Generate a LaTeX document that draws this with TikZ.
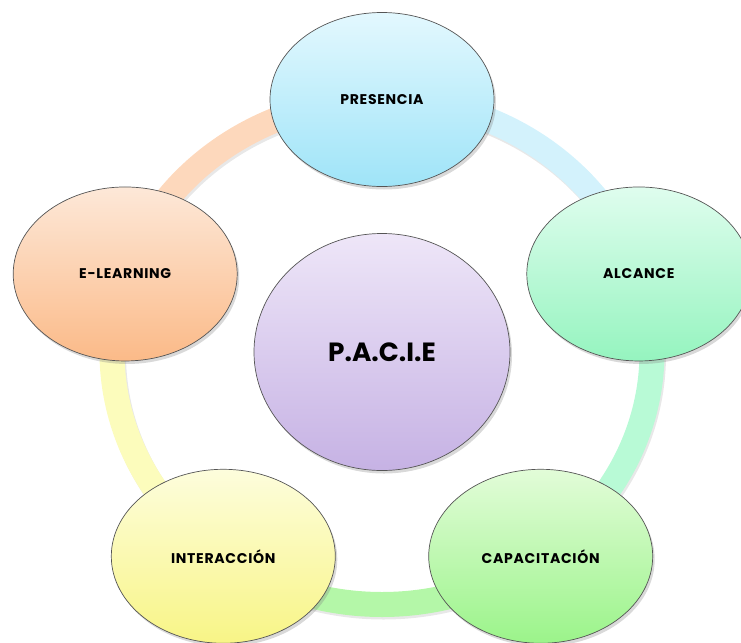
\documentclass[tikz,border=0pt]{standalone}
\usepackage{fontspec}
\newfontfamily\cycfont{Poppins}[LetterSpace=5]
\newfontfamily\hubfont{Poppins}
\usetikzlibrary{shapes.geometric,shadows,backgrounds}
\definecolor{edge}{RGB}{85,85,85}
\definecolor{skytop}{RGB}{227,248,254}
\definecolor{skybot}{RGB}{159,228,248}
\definecolor{skyband}{RGB}{211,242,252}
\definecolor{minttop}{RGB}{223,253,238}
\definecolor{mintbot}{RGB}{149,244,191}
\definecolor{mintband}{RGB}{184,250,214}
\definecolor{grasstop}{RGB}{226,252,216}
\definecolor{grassbot}{RGB}{155,244,138}
\definecolor{grassband}{RGB}{180,247,168}
\definecolor{lemontop}{RGB}{253,253,220}
\definecolor{lemonbot}{RGB}{248,245,134}
\definecolor{lemonband}{RGB}{252,252,188}
\definecolor{peachtop}{RGB}{253,232,216}
\definecolor{peachbot}{RGB}{251,186,136}
\definecolor{peachband}{RGB}{253,216,188}
\definecolor{lilactop}{RGB}{238,230,248}
\definecolor{lilacbot}{RGB}{198,178,228}
\tikzset{
  cyc/.style={ellipse,draw=edge,thin,top color=#1top,bottom color=#1bot,
    minimum width=44.8mm,minimum height=34.8mm,inner sep=0pt,
    font=\cycfont\fontsize{8}{9}\selectfont\bfseries,
    drop shadow={opacity=0.3,shadow xshift=0.4mm,shadow yshift=-0.6mm}},
  hub/.style={cyc=#1,minimum width=51.2mm,minimum height=47.4mm,
    font=\hubfont\fontsize{15}{17}\selectfont\bfseries},
  band/.style={line width=5mm,draw=#1band,
    preaction={draw=black!30,opacity=0.3,line width=5mm,
      transform canvas={shift={(0.3mm,-0.5mm)}}}},
}
\begin{document}
\begin{tikzpicture}
  \useasboundingbox (-7.64,-5.8) rectangle (7.18,7.04);
  % outer cycle
  \foreach \ang/\name/\col/\txt in {90/pres/sky/PRESENCIA,18/alc/mint/ALCANCE,
      -54/cap/grass/CAPACITACIÓN,-126/inter/lemon/INTERACCIÓN,162/elearn/peach/E-LEARNING}
    \node[cyc=\col] (\name) at (\ang:5.4 and 5.05) {\txt};
  \node[hub=lilac] (pacie) at (0,0) {P.A.C.I.E};
  % ring segments behind the ellipses
  \begin{scope}[on background layer]
    \foreach \from/\s/\e/\col in {pres/90/18/sky,alc/18/-54/mint,cap/-54/-126/grass,
        inter/-126/-198/lemon,elearn/162/90/peach}
      \draw[band=\col] (\from.center) arc[start angle=\s,end angle=\e,x radius=5.4,y radius=5.05];
  \end{scope}
\end{tikzpicture}
\end{document}
